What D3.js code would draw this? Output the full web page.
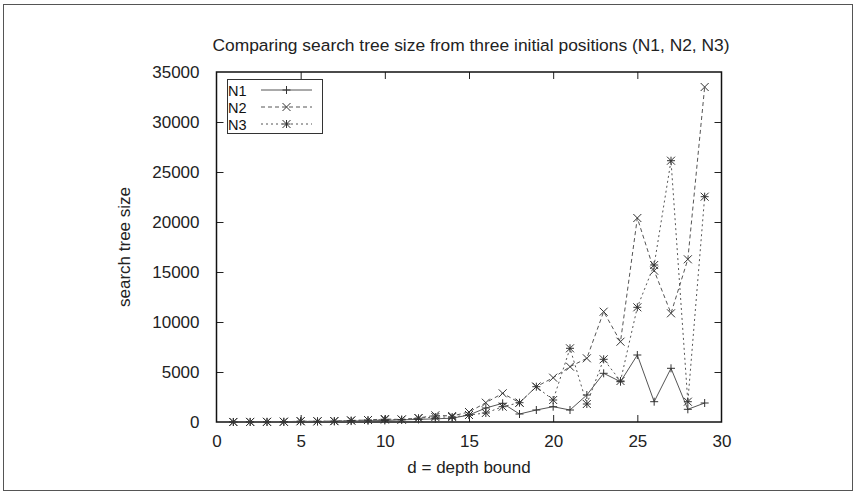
<!DOCTYPE html>
<html><head><meta charset="utf-8">
<script src="https://cdn.jsdelivr.net/npm/d3@7/dist/d3.min.js"></script>
<style>body{margin:0;background:#fff}svg{display:block;font-family:"Liberation Sans",Arial,sans-serif}</style>
</head><body><svg id="c" width="857" height="495"></svg>
<script>
const depths = d3.range(1, 30);
const N1 = [1, 4, 10, 15, 40, 50, 60, 90, 120, 150, 220, 260, 320, 380, 700, 1400, 1870, 800, 1200, 1530, 1200, 2700, 4870, 4030, 6700, 2030, 5370, 1270, 1900];
const N2 = [2, 8, 15, 25, 80, 70, 90, 150, 200, 300, 250, 400, 670, 600, 1000, 1930, 2870, 1930, 3530, 4430, 5530, 6370, 11030, 8030, 20400, 15130, 10870, 16270, 33500];
const N3 = [2, 8, 15, 25, 80, 70, 90, 150, 200, 240, 240, 380, 500, 500, 700, 900, 1530, 1930, 3530, 2200, 7370, 1800, 6270, 4100, 11470, 15700, 26130, 2030, 22530];
const seriesNames = ["N1", "N2", "N3"];
const xTicks = [0, 5, 10, 15, 20, 25, 30];
const yTicks = [0, 5000, 10000, 15000, 20000, 25000, 30000, 35000];
const title = "Comparing search tree size from three initial positions (N1, N2, N3)";
const xLabel = "d = depth bound";
const yLabel = "search tree size";

const svg = d3.select("#c");
const L = 216.5, R = 721.5, T = 72, B = 422;
const x = d3.scaleLinear().domain([0, 30]).range([L, R]);
const y = d3.scaleLinear().domain([0, 35000]).range([B, T]);
const fs = 17;

// outer frame
svg.append("rect").attr("x", 3.5).attr("y", 4.5).attr("width", 849).attr("height", 486)
  .attr("fill", "none").attr("stroke", "#555").attr("stroke-width", 1);

svg.append("text").attr("x", 471).attr("y", 51).attr("text-anchor", "middle")
  .attr("font-size", 17.4).attr("fill", "#222").text(title);

// axes with gnuplot-style inner ticks
const tl = 7;
const gx = svg.append("g").attr("transform", `translate(0,${B})`)
  .call(d3.axisBottom(x).tickValues(xTicks).tickSize(-tl).tickPadding(tl + 6).tickFormat(d3.format("d")));
const gxt = svg.append("g").attr("transform", `translate(0,${T})`)
  .call(d3.axisTop(x).tickValues(xTicks).tickSize(-tl).tickFormat(""));
const gy = svg.append("g").attr("transform", `translate(${L},0)`)
  .call(d3.axisLeft(y).tickValues(yTicks).tickSize(-tl).tickPadding(tl + 10).tickFormat(d3.format("d")));
const gyr = svg.append("g").attr("transform", `translate(${R},0)`)
  .call(d3.axisRight(y).tickValues(yTicks).tickSize(-tl).tickFormat(""));
[gx, gxt, gy, gyr].forEach(g => {
  g.select(".domain").remove();
  g.selectAll(".tick line").attr("stroke", "#222");
  g.selectAll("text").attr("font-size", fs).attr("fill", "#222").attr("font-family", "Liberation Sans, Arial, sans-serif");
});
// remove end ticks at corners
gx.selectAll(".tick").filter(d => d === 0 || d === 30).select("line").remove();
gxt.selectAll(".tick").filter(d => d === 0 || d === 30).select("line").remove();
gy.selectAll(".tick").filter(d => d === 0 || d === 35000).select("line").remove();
gyr.selectAll(".tick").filter(d => d === 0 || d === 35000).select("line").remove();

svg.append("rect").attr("x", L).attr("y", T).attr("width", R - L).attr("height", B - T)
  .attr("fill", "none").attr("stroke", "#111").attr("stroke-width", 1.5);

svg.append("text").attr("x", 469).attr("y", 473).attr("text-anchor", "middle")
  .attr("font-size", fs).attr("fill", "#222").text(xLabel);
svg.append("text").attr("transform", `translate(130,${(T + B) / 2}) rotate(-90)`)
  .attr("text-anchor", "middle").attr("font-size", fs).attr("fill", "#222").text(yLabel);

const dashes = [null, "4,3", "2,3"];
const data = [N1, N2, N3];
const line = d3.line().x((d, i) => x(depths[i])).y(d => y(d));
const ms = 4;
function marker(g, k, cx, cy) {
  const p = d3.path();
  if (k === 0 || k === 2) { p.moveTo(cx - ms, cy); p.lineTo(cx + ms, cy); p.moveTo(cx, cy - ms); p.lineTo(cx, cy + ms); }
  if (k === 1 || k === 2) { p.moveTo(cx - ms, cy - ms); p.lineTo(cx + ms, cy + ms); p.moveTo(cx - ms, cy + ms); p.lineTo(cx + ms, cy - ms); }
  g.append("path").attr("d", p.toString()).attr("stroke", "#333").attr("stroke-width", 1).attr("fill", "none");
}
data.forEach((s, k) => {
  const g = svg.append("g");
  g.append("path").datum(s).attr("d", line).attr("fill", "none").attr("stroke", "#555")
    .attr("stroke-width", 1).attr("stroke-dasharray", dashes[k]);
  s.forEach((v, i) => marker(g, k, x(depths[i]), y(v)));
});

// legend
const lg = svg.append("g");
lg.append("rect").attr("x", 227.5).attr("y", 79.5).attr("width", 95).attr("height", 54)
  .attr("fill", "#fff").attr("stroke", "#333").attr("stroke-width", 1);
seriesNames.forEach((n, k) => {
  const cy = 90 + k * 17;
  lg.append("text").attr("x", 228).attr("y", cy + 5.5).attr("font-size", 14.5).attr("fill", "#111").text(n);
  lg.append("line").attr("x1", 261).attr("x2", 312).attr("y1", cy).attr("y2", cy)
    .attr("stroke", "#555").attr("stroke-width", 1).attr("stroke-dasharray", dashes[k]);
  marker(lg, k, 286.5, cy);
});
</script></body></html>
